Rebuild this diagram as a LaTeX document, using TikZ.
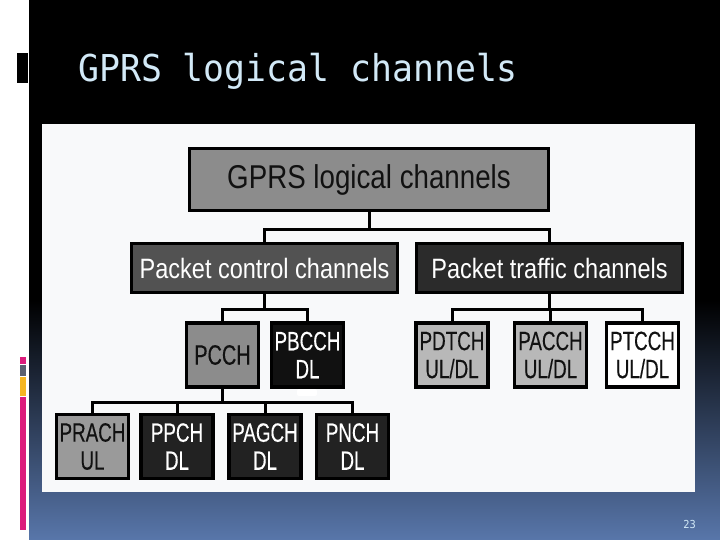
\documentclass[tikz,border=0pt]{standalone}
\usepackage{fontspec}
\setmainfont{Liberation Sans}
\newfontfamily\boxfont[FakeStretch=0.84]{Liberation Sans}
\newfontfamily\chanfont[FakeStretch=0.71, FakeBold=0.3]{Liberation Sans}
\newfontfamily\slidefont[FakeStretch=0.94]{DejaVu Sans Mono}
\definecolor{slideblue}{RGB}{88,118,170}
\definecolor{titleblue}{HTML}{D2E9F7}
\definecolor{panelwhite}{HTML}{F8F9FA}
\definecolor{midgray}{HTML}{8C8C8C}
\definecolor{ctrlgray}{HTML}{525252}
\definecolor{trafgray}{HTML}{2B2B2B}
\definecolor{nearblack}{HTML}{111111}
\definecolor{darkbox}{HTML}{222222}
\definecolor{pale}{HTML}{B8B8B8}
\definecolor{prachgray}{HTML}{9A9A9A}
\definecolor{barpink}{HTML}{DC1C7C}
\definecolor{bargray}{HTML}{5A6070}
\definecolor{baryellow}{HTML}{F5B622}

\begin{document}
\begin{tikzpicture}[
    x=1pt, y=-1pt,
    box/.style={draw=black, line width=3.5pt, inner sep=0pt, align=center},
    headbox/.style={box, fill=midgray, text=nearblack, minimum width=359pt, minimum height=62pt, font=\boxfont\fontsize{33}{36}\selectfont},
    groupbox/.style={box, text=white, minimum width=266pt, minimum height=49pt, font=\boxfont\fontsize{28}{30}\selectfont},
    chanbox/.style={box, minimum width=72pt, minimum height=64pt, font=\chanfont\fontsize{26.5}{28}\selectfont},
    conn/.style={draw=black, line width=3pt},
]
    \useasboundingbox (0,0) rectangle (720,540);

    % =====================================================================
    % SLIDE BACKGROUND
    % =====================================================================
    \fill[white] (0,0) rectangle (720,540);
    \fill[black] (29,0) rectangle (720,300);
    \shade[top color=black, bottom color=slideblue] (29,300) rectangle (720,540);

    % left marks
    \fill[black] (17,53) rectangle (28,83);
    \fill[barpink] (20,357) rectangle (26,364);
    \fill[bargray] (20,365) rectangle (26,376);
    \fill[baryellow] (20,377) rectangle (26,396);
    \fill[barpink] (20,397) rectangle (26,530);

    % title + page number
    \node[anchor=base west, inner sep=0pt, text=titleblue, font=\slidefont\fontsize{37}{40}\selectfont] (title) at (78,82) {GPRS logical channels};
    \node[anchor=base east, inner sep=0pt, text=titleblue, font=\slidefont\fontsize{11}{12}\selectfont] (pageno) at (696,528) {23};

    % picture panel
    \fill[panelwhite] (42,124) rectangle (695,492);

    % =====================================================================
    % TOP LEVELS
    % =====================================================================
    \node[headbox] (gprs) at (369,179.5) {GPRS logical channels};

    \node[groupbox, fill=ctrlgray] (pcc) at (264.5,268) {Packet control channels};
    \node[groupbox, fill=trafgray] (ptc) at (549.5,268) {Packet traffic channels};

    \draw[conn] (gprs.south) -- ++(0,17) -| (pcc.north);
    \draw[conn] (gprs.south) -- ++(0,17) -| (ptc.north);

    % =====================================================================
    % CONTROL CHANNELS
    % =====================================================================
    \node[chanbox, fill=midgray, text=nearblack, font=\chanfont\fontsize{28}{30}\selectfont] (pcch) at (222.5,355) {PCCH};
    \node[chanbox, fill=nearblack, text=white] (pbcch) at (307.5,355) {PBCCH\\DL};

    \draw[conn] (pcc.south) -- ++(0,15) -| (pcch.north);
    \draw[conn] (pcc.south) -- ++(0,15) -| (pbcch.north);

    % Bottom row
    \node[chanbox, fill=prachgray, text=nearblack] (prach) at (92.5,446.5) {PRACH\\UL};
    \node[chanbox, fill=darkbox, text=white] (ppch) at (177,446.5) {PPCH\\DL};
    \node[chanbox, fill=darkbox, text=white] (pagch) at (265,446.5) {PAGCH\\DL};
    \node[chanbox, fill=darkbox, text=white] (pnch) at (352.5,446.5) {PNCH\\DL};

    \draw[conn] (pcch.south) -- ++(0,13.5) -| (prach.north);
    \draw[conn] (pcch.south) -- ++(0,13.5) -| (ppch.north);
    \draw[conn] (pcch.south) -- ++(0,13.5) -| (pagch.north);
    \draw[conn] (pcch.south) -- ++(0,13.5) -| (pnch.north);

    % white patch below PBCCH
    \fill[white, rounded corners=2pt] (297,389) rectangle (317,396);

    % =====================================================================
    % TRAFFIC CHANNELS
    % =====================================================================
    \node[chanbox, fill=pale, text=nearblack] (pdtch) at (452,355) {PDTCH\\UL/DL};
    \node[chanbox, fill=pale, text=nearblack] (pacch) at (550.5,355) {PACCH\\UL/DL};
    \node[chanbox, fill=white, text=nearblack] (ptcch) at (642.5,355) {PTCCH\\UL/DL};

    \draw[conn] (ptc.south) -- ++(0,15) -| (pdtch.north);
    \draw[conn] (ptc.south) -- ++(0,15) -| (pacch.north);
    \draw[conn] (ptc.south) -- ++(0,15) -| (ptcch.north);

\end{tikzpicture}
\end{document}
